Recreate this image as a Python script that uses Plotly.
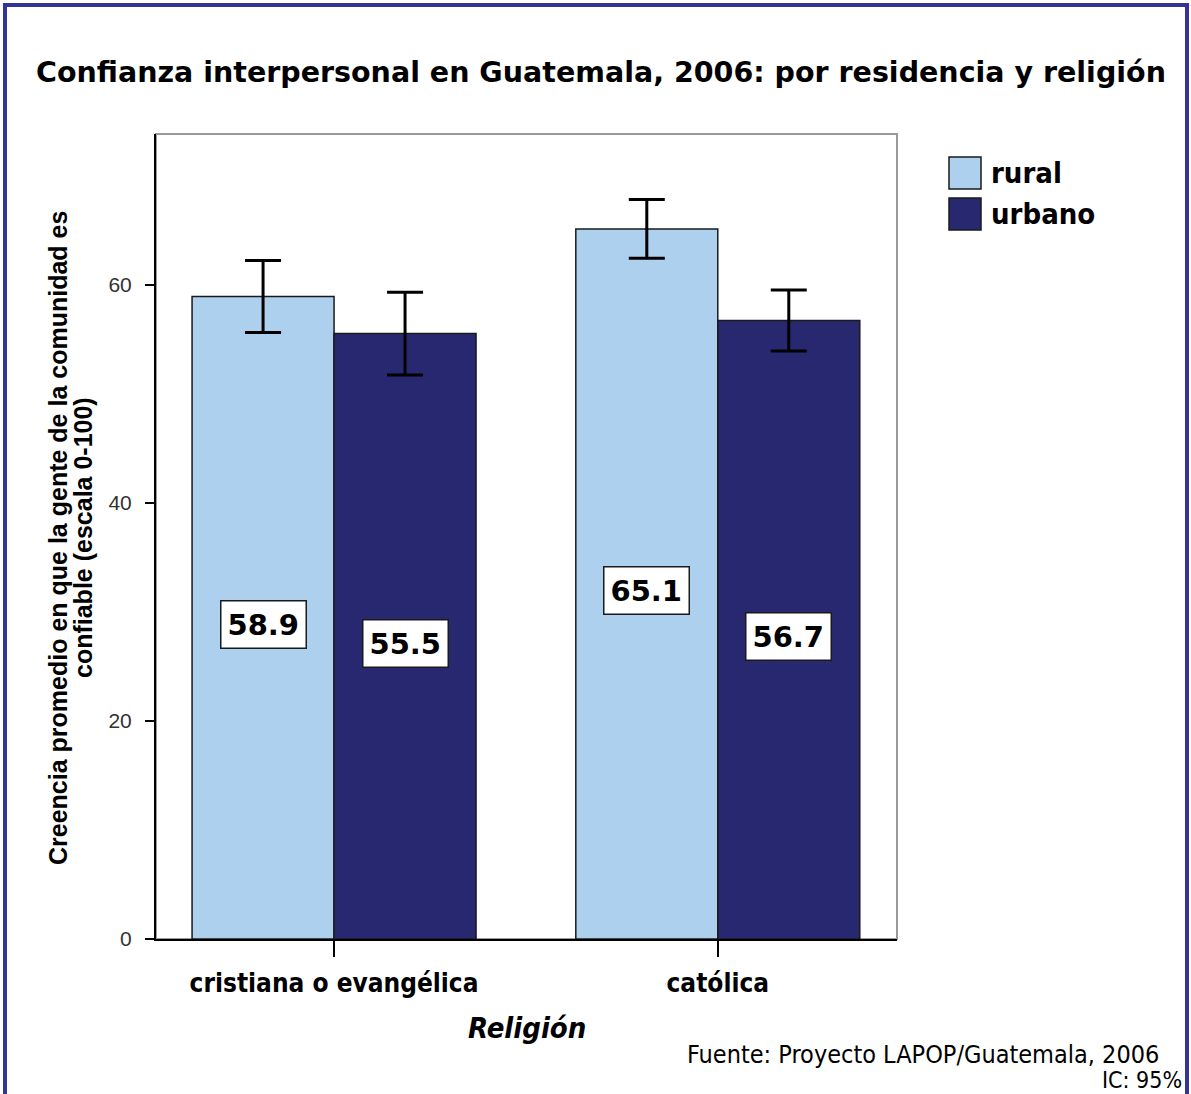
import plotly.graph_objects as go

religion = ["cristiana o evangélica", "católica"]
residencia = ["rural", "urbano"]
media = {"rural": [58.9, 65.1], "urbano": [55.5, 56.7]}
ic95 = {"rural": [3.3, 2.7], "urbano": [3.8, 2.8]}
colores = {"rural": "#ADD0EE", "urbano": "#282870"}
titulo_y = ["Creencia promedio en que la gente de la comunidad es", "confiable (escala 0-100)"]

W, H = 1191, 1094
L, R, T, B = 156, 294, 134, 155
PW, PH = W - L - R, H - T - B

# screen pixel -> paper coords
def px(x):
    return (x - L) / PW

def py(y):
    return (H - B - y) / PH

narrow = "Liberation Sans Narrow, Arial Narrow, DejaVu Sans Condensed, Liberation Sans"

fig = go.Figure()
for r in residencia:
    fig.add_trace(go.Bar(
        x=religion, y=media[r], name=r,
        marker=dict(color=colores[r], line=dict(color="#1a1a1a", width=1.5)),
        error_y=dict(type="data", array=ic95[r], color="black", thickness=3, width=18),
        showlegend=False,
    ))

bargap = 0.26
bw = (1 - bargap) / len(residencia)
ann = []
for j, r in enumerate(residencia):
    for i, v in enumerate(media[r]):
        ann.append(dict(
            x=i + (j - (len(residencia) - 1) / 2) * bw, y=v / 2, xref="x", yref="y",
            text="<b>%.1f</b>" % v, showarrow=False, yshift=-7,
            font=dict(family="DejaVu Sans", size=29, color="black"),
            bgcolor="white", bordercolor="#1a1a1a", borderwidth=1.5, borderpad=6,
        ))

# legend drawn by hand (large swatches)
shapes = []
for k, r in enumerate(residencia):
    y0 = 157 + k * 41
    shapes.append(dict(type="rect", xref="paper", yref="paper",
                       x0=px(949), x1=px(981), y0=py(y0 + 32), y1=py(y0),
                       fillcolor=colores[r], line=dict(color="#1a1a1a", width=1.5)))
    ann.append(dict(x=px(989), y=py(y0 + 16), xref="paper", yref="paper", text="<b>%s</b>" % r,
                    showarrow=False, xanchor="left", yanchor="middle",
                    font=dict(family=narrow, size=29, color="black")))

# plot frame and outer border
shapes.append(dict(type="rect", xref="paper", yref="paper", x0=0, x1=1, y0=0, y1=1,
                   line=dict(color="#999999", width=2), layer="below"))
shapes.append(dict(type="rect", xref="paper", yref="paper",
                   x0=px(5), x1=px(1187), y0=py(1200), y1=py(5),
                   line=dict(color="#333399", width=4)))

for k, linea in enumerate(titulo_y):
    ann.append(dict(x=px(58 + 25 * k), y=py(538), xref="paper", yref="paper", textangle=-90,
                    text="<b>%s</b>" % linea, showarrow=False, xanchor="center", yanchor="middle",
                    font=dict(family="Liberation Sans", size=25, color="black")))
ann.append(dict(x=px(527), y=py(1028), xref="paper", yref="paper", text="<b><i>Religión</i></b>",
                showarrow=False, xanchor="center", yanchor="middle",
                font=dict(family=narrow, size=29, color="black")))
ann.append(dict(x=px(1161), y=py(1054), xref="paper", yref="paper", text="Fuente: Proyecto LAPOP/Guatemala, 2006",
                showarrow=False, xanchor="right", yanchor="middle", font=dict(family=narrow, size=25, color="black")))
ann.append(dict(x=px(1184), y=py(1080), xref="paper", yref="paper", text="IC: 95%",
                showarrow=False, xanchor="right", yanchor="middle", font=dict(family=narrow, size=23, color="black")))

fig.update_layout(
    width=W, height=H,
    margin=dict(l=L, r=R, t=T, b=B),
    paper_bgcolor="white", plot_bgcolor="white",
    barmode="group", bargap=bargap, bargroupgap=0,
    title=dict(text="<b>Confianza interpersonal en Guatemala, 2006: por residencia y religión</b>",
               x=601 / W, xanchor="center", y=1 - 72 / H, yanchor="middle",
               font=dict(family="DejaVu Sans", size=28.5, color="black")),
    xaxis=dict(range=[-0.464, 1.467], showline=True, linecolor="black", linewidth=2,
               ticks="outside", ticklen=16, tickwidth=1.5, tickcolor="black",
               tickfont=dict(family=narrow, size=26, color="black"),
               tickprefix="<b>", ticksuffix="</b>", ticklabelstandoff=4,
               showgrid=False, zeroline=False),
    yaxis=dict(range=[0, 73.8], tickvals=[0, 20, 40, 60], showline=True, linecolor="black", linewidth=2,
               ticks="outside", ticklen=9, tickwidth=2, tickcolor="black", ticklabelstandoff=9,
               tickfont=dict(family="Liberation Sans", size=21, color="#333333"),
               showgrid=False, zeroline=False),
    shapes=shapes,
    annotations=ann,
)

# drop the default page margin so the figure sits at the window corner
fig.write_html("out.html", config={"displayModeBar": False},
               post_script="document.body.style.margin='0px';")
